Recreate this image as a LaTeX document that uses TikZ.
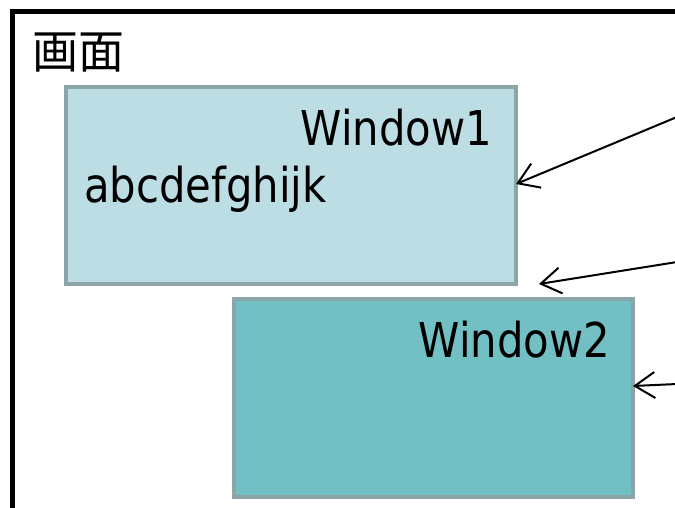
\documentclass[tikz,border=0pt]{standalone}
\usepackage{fontspec}
\setmainfont{DejaVu Sans}[FakeStretch=0.87]
\newfontfamily\cjkfont{Noto Sans CJK JP}
\usetikzlibrary{arrows.meta}
\definecolor{winlight}{HTML}{BCDDE3}
\definecolor{windark}{HTML}{72BFC4}
\definecolor{winborder}{HTML}{8CA5A8}
\tikzset{
  winbox/.style={draw=winborder, line width=4pt, inner sep=0pt, outer sep=0pt},
  pointer/.style={draw=black, line width=2pt,
    -{Straight Barb[length=20pt,width=26pt,line width=2pt]}},
  wintext/.style={font=\fontsize{48}{56}\selectfont, inner sep=0pt}
}
\begin{document}
\begin{tikzpicture}[x=1pt,y=-1pt]
  \useasboundingbox (0,0) rectangle (675,507);
  \begin{scope}
    \clip (0,0) rectangle (675,507);
    % screen frame, running past the right and lower edges
    \draw[line width=5pt] (12,11) rectangle (720,560);
    \node[anchor=base west, inner sep=0pt, font=\cjkfont\fontsize{46}{50}\selectfont] (screen) at (32,68) {画面};
    % windows
    \node[winbox, fill=winlight, minimum width=450pt, minimum height=197pt, anchor=north west] (w1) at (66,87) {};
    \node[winbox, fill=windark, minimum width=399pt, minimum height=198pt, anchor=north west] (w2) at (234,299) {};
    \node[wintext, anchor=base east] (w1title) at (492,145) {Window1};
    \node[wintext, anchor=base west] (w1body) at (84,202) {abcdefghijk};
    \node[wintext, anchor=base east] (w2title) at (610,357) {Window2};
    % callout arrows entering from the right
    \coordinate (s1) at (677,117);
    \coordinate (s2) at (677,262);
    \coordinate (s3) at (677,384);
    \coordinate (gap) at (539,284);
    \draw[pointer] (s1) -- (w1.east |- 0,184);
    \draw[pointer] (s2) -- (gap);
    \draw[pointer] (s3) -- (w2.east |- 0,386);
  \end{scope}
\end{tikzpicture}
\end{document}
